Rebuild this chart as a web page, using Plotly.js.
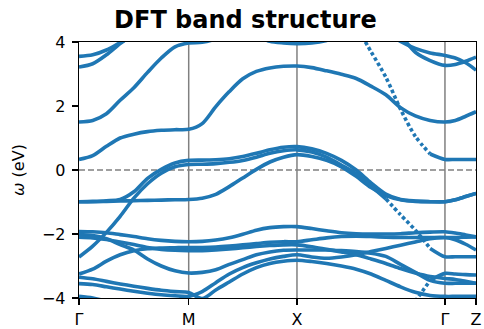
<!DOCTYPE html>
<html>
<head>
<meta charset="utf-8">
<script src="https://cdn.plot.ly/plotly-3.0.1.min.js"></script>
<style>html,body{margin:0;padding:0;background:#fff;}#plot{width:484px;height:329px;}</style>
</head>
<body>
<div id="plot"></div>
<script>
// High-symmetry points
const kTicks = [0, 1, 1.987, 3.336, 3.619];
const kLabels = ['Γ', 'M', 'X', 'Γ', 'Z'];
// k-path sample points (Γ-M, M-X, X-Γ, Γ-Z)
const kPath = [0, 0.125, 0.25, 0.375, 0.5, 0.625, 0.75, 0.875, 1.0,
  1.123, 1.247, 1.370, 1.493, 1.617, 1.740, 1.864, 1.987,
  2.122, 2.257, 2.392, 2.527, 2.662, 2.797, 2.931, 3.066, 3.201, 3.336,
  3.430, 3.525, 3.619];

// band energies (eV) at kPath points
const bandB = [0.33, 0.45, 0.74, 1.0, 1.12, 1.20, 1.24, 1.26, 1.27,
  1.45, 1.98, 2.45, 2.85, 3.08, 3.19, 3.24, 3.25,
  3.20, 3.10, 2.99, 2.86, 2.62, 2.35, 1.95, 1.69, 1.55, 1.50,
  1.55, 1.68, 1.82];
const bandA = [1.50, 1.55, 1.76, 2.18, 2.57, 3.05, 3.5, 3.85, 3.97,
  3.99, 4.1, 4.3, null, null, null, null, null,
  null, null, null, null, null, null, null, null, null, null,
  null, null, null];
const bandU3 = [3.55, 3.6, 3.75, 3.98, 4.2, null, null, null, null,
  null, null, null, null, null, null, null, null,
  null, null, null, null, null, null, null, null, null, null,
  null, null, null];
const bandU4 = [3.22, 3.32, 3.6, 3.95, 4.25, null, null, null, null,
  null, null, null, null, null, null, null, null,
  null, null, null, null, null, null, null, null, null, null,
  null, null, null];
const bandT1 = [null, null, null, null, null, null, null, null, null,
  null, null, null, null, 4.2, 4.02, 3.97, 3.95,
  3.97, 4.05, 4.2, null, null, null, null, null, null, null,
  null, null, null];
const bandU1 = [null, null, null, null, null, null, null, null, null,
  null, null, null, null, null, null, null, null,
  null, null, null, null, null, 4.3, 4.02, 3.8, 3.66, 3.58,
  3.5, 3.35, 3.12];
const bandU2 = [null, null, null, null, null, null, null, null, null,
  null, null, null, null, null, null, null, null,
  null, null, null, null, null, 4.6, 4.2, 3.68, 3.42, 3.27,
  3.3, 3.4, 3.53];
const bandS1 = [null, null, null, null, null, null, null, null, null,
  null, null, null, null, null, null, null, null,
  null, null, null, 4.5, 3.7, 2.9, 1.9, 1.05, 0.5, 0.33,
  0.33, 0.33, 0.33];
const bandC1 = [-0.99, -0.98, -0.96, -0.92, -0.68, -0.26, 0.02, 0.22, 0.30,
  0.31, 0.32, 0.35, 0.42, 0.52, 0.63, 0.71, 0.73,
  0.66, 0.52, 0.30, 0.0, -0.4, -0.75, -0.92, -0.97, -0.99, -0.99,
  -0.93, -0.83, -0.73];
const bandC2 = [-2.72, -2.38, -1.95, -1.45, -0.88, -0.43, -0.1, 0.1, 0.17,
  0.18, 0.2, 0.24, 0.3, 0.4, 0.52, 0.6, 0.63,
  0.56, 0.4, 0.15, -0.12, -0.5, -0.9, -1.4, -1.88, -2.45, -2.71,
  -2.71, -2.71, -2.71];
const bandD = [-0.99, -0.99, -0.98, -0.97, -0.96, -0.95, -0.94, -0.93, -0.92,
  -0.88, -0.76, -0.52, -0.25, 0.02, 0.25, 0.4, 0.48,
  0.42, 0.3, 0.1, -0.2, -0.55, -0.8, -0.93, -0.98, -0.99, -0.99,
  -0.93, -0.83, -0.73];
const bandG1 = [-1.92, -1.93, -1.96, -2.02, -2.08, -2.15, -2.2, -2.23, -2.24,
  -2.23, -2.19, -2.12, -2.01, -1.88, -1.80, -1.77, -1.77,
  -1.83, -1.9, -1.96, -1.99, -2.0, -2.0, -1.99, -1.96, -1.94, -1.93,
  -1.97, -2.03, -2.09];
const bandG2 = [-2.02, -2.05, -2.15, -2.33, -2.5, -2.78, -3.0, -3.15, -3.22,
  -3.2, -3.12, -2.95, -2.8, -2.65, -2.56, -2.51, -2.5,
  -2.5, -2.5, -2.52, -2.55, -2.6, -2.7, -2.95, -3.2, -3.45, -3.54,
  -3.54, -3.54, -3.54];
const bandG3 = [-2.1, -2.12, -2.17, -2.25, -2.33, -2.42, -2.48, -2.51, -2.52,
  -2.52, -2.5, -2.47, -2.43, -2.39, -2.36, -2.34, -2.34,
  -2.4, -2.48, -2.56, -2.65, -2.78, -2.92, -3.08, -3.22, -3.33, -3.39,
  -3.42, -3.48, -3.54];
const bandG5 = [-3.25, -3.1, -2.85, -2.65, -2.52, -2.46, -2.44, -2.43, -2.42,
  -2.42, -2.41, -2.38, -2.34, -2.3, -2.26, -2.24, -2.24,
  -2.18, -2.12, -2.08, -2.07, -2.08, -2.1, -2.11, -2.11, -2.11, -2.11,
  -2.18, -2.32, -2.5];
const bandG6 = [-3.35, -3.4, -3.48, -3.56, -3.63, -3.7, -3.76, -3.8, -3.83,
  -4.02, -3.75, -3.5, -3.25, -3.05, -2.92, -2.85, -2.82,
  -2.86, -2.92, -3.0, -3.1, -3.25, -3.45, -3.65, -3.82, -3.92, -3.95,
  -3.95, -3.95, -3.95];
const bandG7 = [-3.55, -3.58, -3.65, -3.72, -3.79, -3.85, -3.9, -3.93, -3.95,
  -3.8, -3.52, -3.25, -3.05, -2.9, -2.78, -2.7, -2.65,
  -2.72, -2.76, -2.72, -2.65, -2.55, -2.45, -2.35, -2.25, -2.15, -2.11,
  -2.11, -2.1, -2.09];
const bandG8 = [-3.95, -4.0, -4.1, null, null, null, null, null, null,
  null, null, null, null, null, null, null, null,
  null, null, null, null, null, null, null, null, null, null,
  null, null, null];
const bandS3 = [null, null, null, null, null, null, null, null, null,
  null, null, null, null, null, null, null, null,
  null, null, null, null, null, null, null, -4.1, -3.45, -3.23,
  -3.25, -3.27, -3.28];

const solidBands = [bandB, bandA, bandU3, bandU4, bandT1, bandU1, bandU2,
  bandC1, bandD, bandG1, bandG2, bandG3, bandG5, bandG6, bandG7, bandG8];
// bands whose steep X-Γ part looks dotted: [band, first dotted index, last dotted index]
const dottedBands = [[bandS1, 20, 25], [bandC2, 22, 25], [bandS3, 23, 25]];

const blue = '#1f77b4';
const traces = [];
const solidLine = {color: blue, width: 3.6, shape: 'spline', smoothing: 0.8};
solidBands.forEach(b => traces.push({
  x: kPath, y: b, type: 'scatter', mode: 'lines', line: solidLine,
  hoverinfo: 'skip', showlegend: false
}));
dottedBands.forEach(([b, i0, i1]) => {
  traces.push({x: kPath.slice(0, i0 + 1), y: b.slice(0, i0 + 1), type: 'scatter', mode: 'lines',
    line: solidLine, showlegend: false, hoverinfo: 'skip'});
  traces.push({x: kPath.slice(i0, i1 + 1), y: b.slice(i0, i1 + 1), type: 'scatter', mode: 'lines',
    line: Object.assign({}, solidLine, {dash: '3.5px,2.6px'}), showlegend: false, hoverinfo: 'skip'});
  traces.push({x: kPath.slice(i1), y: b.slice(i1), type: 'scatter', mode: 'lines',
    line: solidLine, showlegend: false, hoverinfo: 'skip'});
});

const shapes = [];
kTicks.slice(1, 4).forEach(k => shapes.push({type: 'line', xref: 'x', yref: 'paper', x0: k, x1: k, y0: 0, y1: 1,
  line: {color: '#808080', width: 1.5}, layer: 'below'}));
shapes.push({type: 'line', xref: 'paper', yref: 'y', x0: 0, x1: 1, y0: 0, y1: 0,
  line: {color: '#808080', width: 1.5, dash: '6px,3px'}, layer: 'below'});

const font = {family: 'DejaVu Sans', size: 16, color: '#000'};
const layout = {
  width: 484, height: 329,
  margin: {l: 79, r: 8, t: 41.5, b: 30.7, pad: 0},
  paper_bgcolor: '#fff', plot_bgcolor: '#fff',
  font: font,
  title: {text: '<b>DFT band structure</b>', font: {family: 'DejaVu Sans', size: 24, color: '#000'},
    x: 0.507, xref: 'container', xanchor: 'center', y: 0.94, yref: 'container', yanchor: 'middle'},
  xaxis: {range: [0, kTicks[4]], tickvals: kTicks, ticktext: kLabels, ticks: 'outside', ticklen: 6,
    tickwidth: 1.3, tickcolor: '#000', showline: true, mirror: true, linecolor: '#000', linewidth: 1.3,
    showgrid: false, zeroline: false, tickfont: font, fixedrange: true},
  yaxis: {range: [-4, 4], tickvals: [-4, -2, 0, 2, 4], ticktext: ['−4', '−2', '0', '2', '4'],
    ticks: 'outside', ticklen: 6, tickwidth: 1.3, tickcolor: '#000', showline: true, mirror: true,
    linecolor: '#000', linewidth: 1.3, showgrid: false, zeroline: false, tickfont: font,
    ticklabelstandoff: 3,
    title: {text: '<i>ω</i> (eV)', font: font, standoff: 13}, fixedrange: true},
  shapes: shapes
};
Plotly.newPlot('plot', traces, layout, {staticPlot: true, displayModeBar: false});
</script>
</body>
</html>
